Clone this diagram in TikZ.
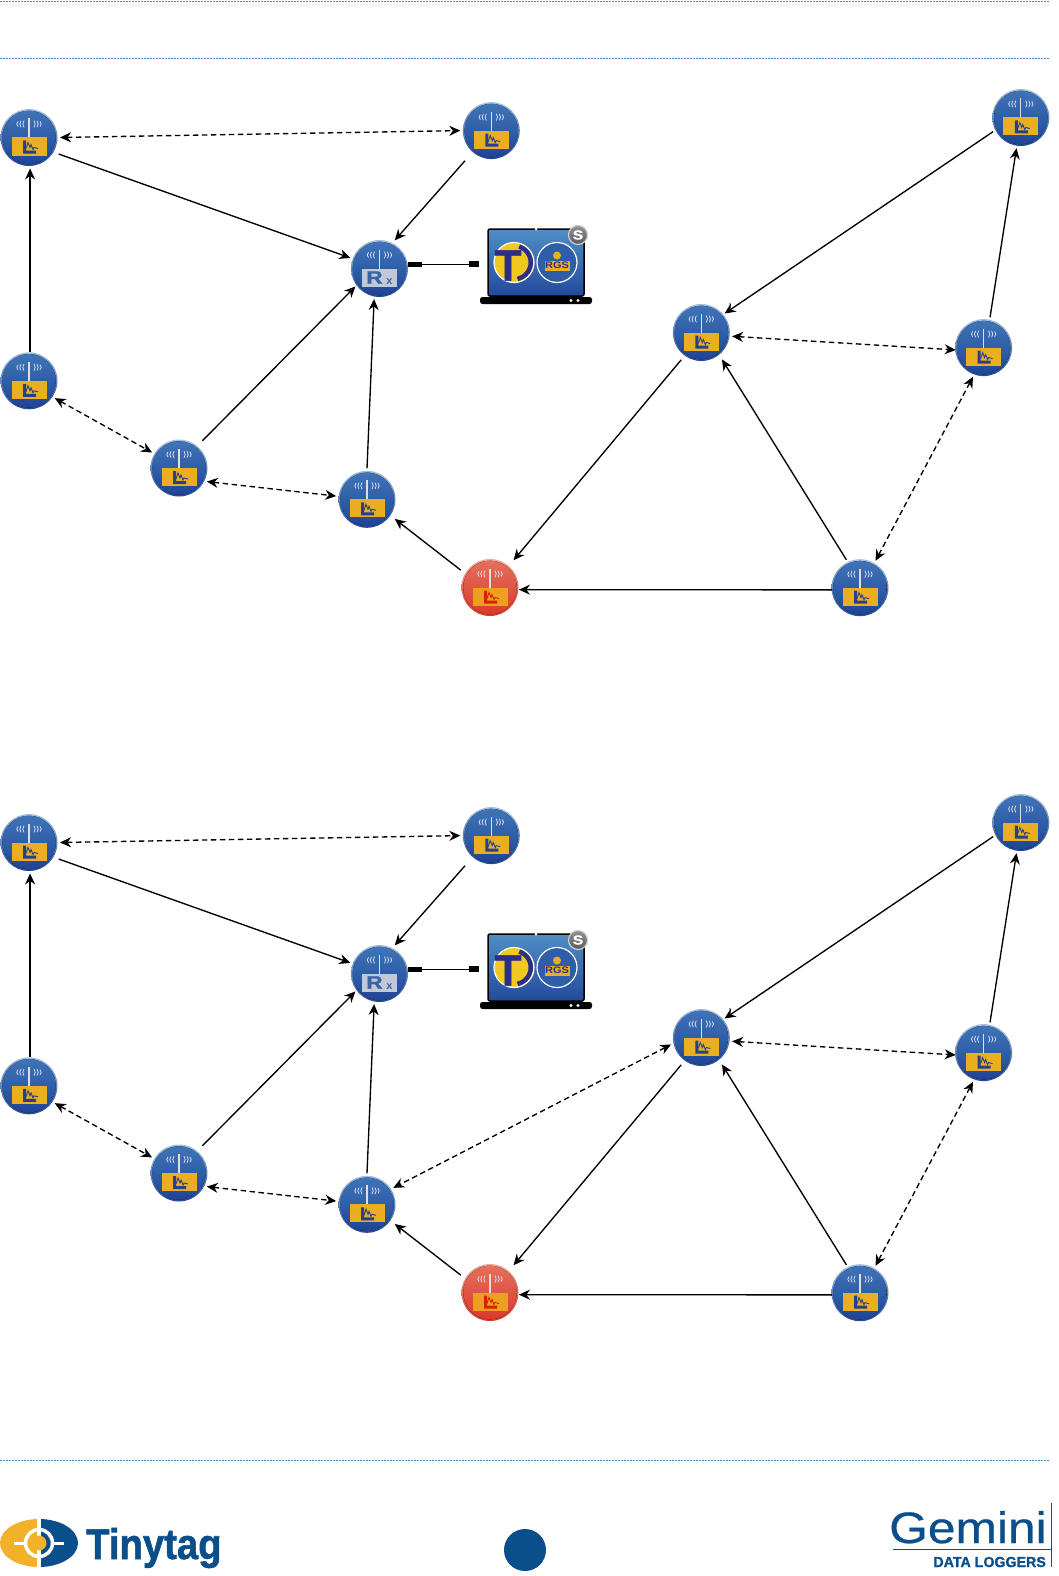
\documentclass[tikz,border=0pt]{standalone}
\usepackage{fontspec}
\setmainfont{Liberation Sans}
\newfontfamily\heavyfont[RawFeature={embolden=1.4}]{Liberation Sans Bold}
\newfontfamily\medfont[RawFeature={embolden=0.6}]{Liberation Sans}
\usetikzlibrary{arrows.meta}
\definecolor{dotblue}{HTML}{4C86B8}
\definecolor{logoblue}{HTML}{0A4F8C}
\definecolor{logoorange}{HTML}{F2B12B}
\definecolor{boxorange}{HTML}{EBAE22}
\definecolor{glyphblue}{HTML}{27408B}
\definecolor{rimblue}{HTML}{A3C0E2}
\definecolor{rimbot}{HTML}{234A98}
\definecolor{ballhigh}{HTML}{3F74B6}
\definecolor{ballmid}{HTML}{2F5EA8}
\definecolor{balllow}{HTML}{1F4494}
\definecolor{rimred}{HTML}{F2A898}
\definecolor{rimredbot}{HTML}{D8392B}
\definecolor{redhigh}{HTML}{E56F5C}
\definecolor{redlow}{HTML}{DB3A2C}
\definecolor{navy}{HTML}{2B2F86}
\definecolor{tyellow}{HTML}{F0C81E}
\definecolor{rxgray}{HTML}{C2C9D6}
\definecolor{rxtext}{HTML}{3A64A8}
\definecolor{lapt}{HTML}{4F8EC6}
\definecolor{lapb}{HTML}{234A9C}
\tikzset{
  x=1pt,y=-1pt,
  dotrule/.style={draw=dotblue,line width=1pt,dash pattern=on 2pt off 1pt},
  bluenode/.style={circle,inner sep=0pt,minimum size=57pt,outer sep=2.5pt,top color=rimblue,bottom color=rimbot},
  rednode/.style={circle,inner sep=0pt,minimum size=57pt,outer sep=2.5pt,top color=rimred,bottom color=rimredbot},
  solidlink/.style={draw=black,line width=1.35pt,-{Stealth[length=11pt,width=10pt]}},
  duallink/.style={draw=black,line width=1.35pt,dash pattern=on 5.5pt off 3.5pt,{Stealth[length=11pt,width=10pt]}-{Stealth[length=11pt,width=10pt]}},
  wave/.style={draw=white!88!blue,line width=.75pt},
}
\newcommand{\wavemarks}{%
  \draw[white!75!gray,line width=1.1pt] (0,-19)--(0,0);
  \foreach \d/\h in {5/3.4,8/3.2,11/2.6}{
    \draw[wave] (\d,-13.5-\h) .. controls (\d+1.6,-14.5) and (\d+1.6,-12.5) .. (\d,-13.5+\h);
    \draw[wave] (-\d,-13.5-\h) .. controls (-\d-1.6,-14.5) and (-\d-1.6,-12.5) .. (-\d,-13.5+\h);
  }}
\newcommand{\sensor}[4]{% name, x, y, kind
  \node[#4node] (#1) at (#2,#3) {};
  \begin{scope}[shift={(#2,#3)}]
  \csname inner#4\endcsname
  \wavemarks
  \csname box#4\endcsname
  \end{scope}}
\newcommand{\innerblue}{\fill[top color=ballhigh,bottom color=balllow,middle color=ballmid] (0,0) circle[radius=26.8];}
\newcommand{\innerred}{\fill[top color=redhigh,bottom color=redlow] (0,0) circle[radius=26.8];}
\newcommand{\glyph}[1]{%
  \fill[#1] (-6,3)--(-3,3)--(-3,13)--(7,13)--(7,16)--(-6,16)--cycle;
  \draw[#1,line width=.9pt] (-3,11)--(-1,5)--(1,10)--(2,7)--(4,12)--(5,10)--(9,11);}
\newcommand{\boxblue}{\fill[boxorange] (-17.5,0) rectangle (17.5,18);\glyph{glyphblue}}
\newcommand{\boxred}{\fill[boxorange!92!red] (-17.5,0) rectangle (17.5,18);\glyph{red!70!orange!85!black}}
\newcommand{\network}[1]{%
  \sensor{a#1}{29}{137.5}{blue}
  \sensor{b#1}{491.3}{130.6}{blue}
  \sensor{c#1}{29}{380.8}{blue}
  \sensor{d#1}{179}{468}{blue}
  \sensor{e#1}{367}{499.3}{blue}
  \sensor{f#1}{490}{587.5}{red}
  \sensor{g#1}{860}{587.7}{blue}
  \sensor{h#1}{701.3}{332.5}{blue}
  \sensor{i#1}{983.6}{347.6}{blue}
  \sensor{j#1}{1020.8}{117.5}{blue}
  % receiver
  \node[bluenode] (rx#1) at (379.5,268.5) {};
  \begin{scope}[shift={(379.5,268.5)}]
    \innerblue\wavemarks
    \fill[rxgray] (-18,0) rectangle (17,18);
    \node[font=\heavyfont\fontsize{18}{18}\selectfont,text=rxtext,inner sep=0] (rxr#1) at (-5,9) {\scalebox{1.25}[1]{R}};
    \node[font=\bfseries\fontsize{11}{11}\selectfont,text=rxtext,inner sep=0] (rxx#1) at (10,13) {x};
  \end{scope}
  % laptop
  \node[draw=black,line width=1.5pt,rounded corners=2pt,minimum width=96pt,minimum height=67pt,inner sep=0,top color=lapt,bottom color=lapb] (lap#1) at (536,262.5) {};
  \node[fill=black,rounded corners=2.5pt,minimum width=112pt,minimum height=7pt,inner sep=0] (base#1) at (536,300.5) {};
  \fill[white] (571,300.5) circle[radius=1.6] (578,300.5) circle[radius=1.6];
  \fill[white] (536,229) circle[radius=1.5];
  \node[circle,fill=tyellow,draw=white,line width=1.2pt,minimum size=40pt,inner sep=0] (tlogo#1) at (514,262.5) {};
  \begin{scope}[shift={(514,262.5)},y=1pt]
    \draw[navy,line width=4.5pt] (72:16.8) arc[start angle=72,end angle=-78,radius=16.8];
  \end{scope}
  \node[text=navy,font=\heavyfont\fontsize{44}{44}\selectfont,inner sep=0] (tt#1) at (508,265.5) {T};
  \node[circle,fill=ballmid,draw=white,line width=1.2pt,minimum size=40pt,inner sep=0] (rgs#1) at (557,262.5) {};
  \node[fill=boxorange,inner sep=0,minimum width=25pt,minimum height=10pt,text=navy,font=\bfseries\fontsize{9.5}{9.5}\selectfont] (rgst#1) at (557,265.5) {\scalebox{1.15}[1]{RGS}};
  \fill[boxorange] (557,255.5) circle[radius=4];
  \node[circle,draw=gray!40,line width=1.2pt,top color=gray!85,bottom color=gray!70!black,minimum size=19pt,inner sep=0,text=white,font=\heavyfont\fontsize{13}{13}\selectfont] (srv#1) at (578,235) {\scalebox{1.2}[1]{S}};
  \coordinate (pa#1) at (408,264.3);
  \coordinate (pb#1) at (422,264.3);
  \coordinate (pc#1) at (469,264.3);
  \coordinate (pd#1) at (479,264.3);
  \draw[line width=5pt] (pa#1)--(pb#1);
  \draw[line width=1.3pt] (pb#1)--(pc#1);
  \draw[line width=6pt] (pc#1)--(pd#1);
  % links
  \draw[duallink] (a#1.0)--(b#1.180);
  \draw[solidlink,shorten <=3pt] (a#1.-30)--(rx#1.160);
  \draw[solidlink,shorten <=9pt,shorten >=1pt] (b#1.-131)--(rx#1.62);
  \draw[solidlink,shorten <=-2pt] (c#1.88)--(a#1.-88);
  \draw[duallink] (c#1.-34)--(d#1.150);
  \draw[solidlink,shorten <=5pt,shorten >=-1pt] (d#1.50)--(rx#1.217);
  \draw[duallink] (d#1.-26)--(e#1.174);
  \draw[solidlink] (e#1.90)--(rx#1.-100);
  \draw[solidlink,shorten <=3pt,shorten >=3pt] (f#1.150)--(e#1.-35);
  \draw[solidlink,shorten <=-3pt,shorten >=-2pt] (g#1.184)--(f#1.-4);
  \draw[solidlink,shorten <=3pt,shorten >=5pt] (h#1.-126)--(f#1.49);
  \draw[solidlink,shorten >=3pt] (g#1.116)--(h#1.-52);
  \draw[duallink,shorten >=-3pt] (h#1.-7)--(i#1.184);
  \draw[duallink] (g#1.60)--(i#1.-110);
  \draw[solidlink] (i#1.78)--(j#1.-98);
  \draw[solidlink,shorten >=-1pt] (j#1.207)--(h#1.39);
  \coordinate (tka#1) at (729.5,303);
  \coordinate (tkb#1) at (730.5,309);
  \draw[gray,line width=.6pt] (tka#1)--(tkb#1);
}
\begin{document}
\begin{tikzpicture}
\useasboundingbox (0,0) rectangle (1059,1576);
\fill[white] (0,0) rectangle (1059,1576);
\coordinate (t1l) at (0,1.5);\coordinate (t1r) at (1050,1.5);
\coordinate (t2l) at (0,58.5);\coordinate (t2r) at (1050,58.5);
\coordinate (t3l) at (0,1460);\coordinate (t3r) at (1050,1460);
\draw[dotrule] (t1l)--(t1r);
\draw[dotrule] (t2l)--(t2r);
\draw[dotrule] (t3l)--(t3r);
\network{x}
\begin{scope}[yshift=-705pt]
\network{y}
\draw[duallink] (hy.193)--(ey.32);
\end{scope}
% page badge
\node[circle,fill=logoblue,minimum size=42pt,inner sep=0] (page) at (525,1550) {};
% Tinytag logo
\begin{scope}
\clip (39,1543) ellipse[x radius=39,y radius=24];
\fill[logoorange] (0,1515) rectangle (39,1570);
\fill[logoblue] (39,1515) rectangle (80,1570);
\end{scope}
\draw[white,line width=3.5pt] (39,1543) circle[radius=13.5];
\draw[white,line width=3.5pt] (39,1517)--(39,1569);
\draw[white,line width=3pt] (14,1543)--(26,1543) (52,1543)--(64,1543);
\fill[logoorange] (39,1543) circle[radius=7.5];
\node[anchor=base west,inner sep=0,text=logoblue,font=\heavyfont\fontsize{43}{43}\selectfont] (tiny) at (86,1559) {\scalebox{.89}[1]{Tinytag}};
% Gemini logo
\node[anchor=base west,inner sep=0,text=logoblue,font=\medfont\fontsize{44}{44}\selectfont] (gem) at (889,1543) {\scalebox{1.13}[1]{Gemini}};
\node[anchor=base east,inner sep=0,text=logoblue,font=\heavyfont\fontsize{14.5}{14.5}\selectfont] (dl) at (1046,1567) {\scalebox{.98}[1]{DATA LOGGERS}};
\coordinate (g1) at (893,1549.3);\coordinate (g2) at (1051,1549.3);
\coordinate (g3) at (1051,1503);\coordinate (g4) at (1051,1567);
\draw[logoblue,line width=1pt] (g1)--(g2);
\draw[logoblue,line width=1pt] (g3)--(g4);
\end{tikzpicture}
\end{document}
